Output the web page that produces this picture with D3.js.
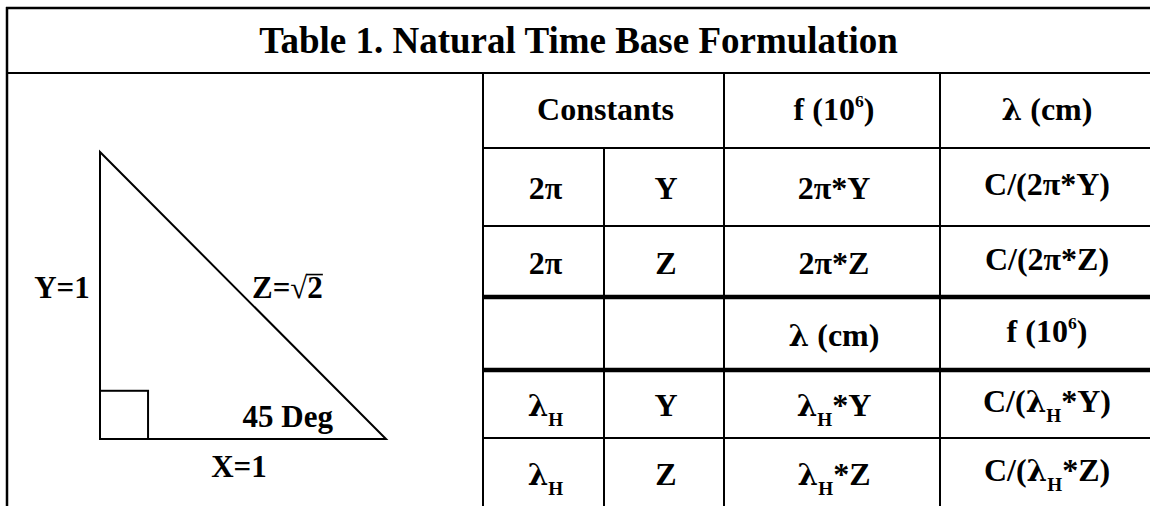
<!DOCTYPE html>
<html>
<head>
<meta charset="utf-8">
<script src="https://cdn.jsdelivr.net/npm/d3@7"></script>
<style>
    body { margin: 0; background: #fff; }
    text { font-family: "Liberation Serif", "Times New Roman", serif; font-weight: bold; fill: #000; }
    .greek { font-family: "DejaVu Serif", serif; }
</style>
</head>
<body>
<script>
// table content ("_H" = subscript H, "^6" = superscript 6)
const title = "Table 1. Natural Time Base Formulation";
const headers = ["Constants", "f (10^6)", "λ (cm)"];
const constA = ["2π", "2π", "", "λ_H", "λ_H"];
const constB = ["Y", "Z", "", "Y", "Z"];
const colF = ["2π*Y", "2π*Z", "λ (cm)", "λ_H*Y", "λ_H*Z"];
const colL = ["C/(2π*Y)", "C/(2π*Z)", "f (10^6)", "C/(λ_H*Y)", "C/(λ_H*Z)"];
const thickRows = [3, 4];

// triangle
const legX = 1, legY = 1;
const sideLabels = ["Y=1", "Z=√2", "X=1"];
const angleLabel = "45 Deg";

let width = 1150, height = 506;

let svg = d3.select("body").append("svg")
    .attr("width", width)
    .attr("height", height);

// layout scales for the table grid
let colX = d3.scaleLinear().domain([0, 1, 2, 3, 4]).range([483, 604, 724, 940, 1156]);
let rowY = d3.scaleLinear().domain([0, 1, 2, 3, 4, 5, 6]).range([73, 148, 226, 297, 370, 438, 508]);

// outer frame
svg.append("line").attr("x1", 7).attr("x2", 7).attr("y1", 7).attr("y2", height)
    .attr("stroke", "#000").attr("stroke-width", 2.5);
svg.append("line").attr("x1", 6).attr("x2", width).attr("y1", 8).attr("y2", 8)
    .attr("stroke", "#000").attr("stroke-width", 2.5);
svg.append("line").attr("x1", 6).attr("x2", width).attr("y1", rowY(0)).attr("y2", rowY(0))
    .attr("stroke", "#000").attr("stroke-width", 2.2);

// horizontal rules
svg.selectAll(".hrule")
    .data(d3.range(1, 6))
    .join("line")
    .attr("class", "hrule")
    .attr("x1", colX(0) - 1).attr("x2", width)
    .attr("y1", d => rowY(d)).attr("y2", d => rowY(d))
    .attr("stroke", "#000")
    .attr("stroke-width", d => thickRows.includes(d) ? 4.5 : 2);

// vertical rules
svg.selectAll(".vrule")
    .data([0, 1, 2, 3])
    .join("line")
    .attr("class", "vrule")
    .attr("x1", d => colX(d)).attr("x2", d => colX(d))
    .attr("y1", d => d === 1 ? rowY(1) : rowY(0)).attr("y2", height)
    .attr("stroke", "#000")
    .attr("stroke-width", 2);

// rich text helper: _X subscript, ^X superscript, lambda in a heavier face
function rich(sel, str, size) {
    let parts = str.split(/([_^].|λ)/).filter(p => p !== "");
    let shift = 0;
    parts.forEach(p => {
        let t = sel.append("tspan");
        if (p[0] === "_" || p[0] === "^") {
            let s = p[0] === "_" ? 0.3 * size : -0.38 * size;
            t.attr("dy", s - shift).attr("font-size", size * (p[0] === "_" ? 0.6 : 0.55)).text(p[1]);
            shift = s;
        } else {
            if (shift !== 0) t.attr("dy", -shift);
            shift = 0;
            if (p === "λ") t.attr("class", "greek").attr("font-size", size * 0.92);
            t.text(p);
        }
    });
}

let fs = 32;

svg.append("text")
    .attr("x", (7 + width) / 2)
    .attr("y", 53)
    .attr("text-anchor", "middle")
    .attr("font-size", 37)
    .text(title);

// header row
let headerCells = [
    { c0: 0, c1: 2, txt: headers[0] },
    { c0: 2, c1: 3, txt: headers[1] },
    { c0: 3, c1: 4, txt: headers[2] }
];
headerCells.forEach(h => {
    let t = svg.append("text")
        .attr("x", (colX(h.c0) + Math.min(colX(h.c1), 1150)) / 2 + 2)
        .attr("y", (rowY(0) + rowY(1)) / 2 + 9)
        .attr("text-anchor", "middle")
        .attr("font-size", fs);
    rich(t, h.txt, fs);
});

// body rows
let cols = [constA, constB, colF, colL];
cols.forEach((col, ci) => {
    col.forEach((txt, ri) => {
        if (!txt) return;
        let r = ri + 1;
        let t = svg.append("text")
            .attr("x", (colX(ci) + Math.min(colX(ci + 1), 1150)) / 2 + 2)
            .attr("y", (rowY(r) + rowY(r + 1)) / 2 + (ci === 3 ? 8 : 12))
            .attr("text-anchor", "middle")
            .attr("font-size", fs);
        rich(t, txt, fs);
    });
});

// triangle
let tx = d3.scaleLinear().domain([0, 1]).range([100, 386]);
let ty = d3.scaleLinear().domain([0, 1]).range([439, 152]);

let tri = d3.line()([[tx(0), ty(legY)], [tx(0), ty(0)], [tx(legX), ty(0)]]);
svg.append("path")
    .attr("d", tri + "Z")
    .attr("fill", "none")
    .attr("stroke", "#000")
    .attr("stroke-width", 2);

let sq = 0.168;
svg.append("rect")
    .attr("x", tx(0)).attr("y", ty(sq))
    .attr("width", tx(sq) - tx(0)).attr("height", ty(0) - ty(sq))
    .attr("fill", "none").attr("stroke", "#000").attr("stroke-width", 2);

let lfs = 31;
svg.append("text")
    .attr("x", tx(0) - 38).attr("y", ty(legY / 2) + 2)
    .attr("text-anchor", "middle").attr("font-size", lfs)
    .text(sideLabels[0]);

let zl = svg.append("text")
    .attr("x", tx(legX / 2) + 9).attr("y", ty(legY / 2) + 2)
    .attr("font-size", lfs)
    .text(sideLabels[1]);

// vinculum over the 2 of the root sign
let zNode = zl.node();
let n = sideLabels[1].length;
let rootEnd = zNode.getEndPositionOfChar(n - 2).x;
let twoEnd = zNode.getEndPositionOfChar(n - 1).x;
let barY = ty(legY / 2) + 2 - lfs * 0.74;
svg.append("line")
    .attr("x1", rootEnd - 1).attr("x2", twoEnd)
    .attr("y1", barY).attr("y2", barY)
    .attr("stroke", "#000").attr("stroke-width", 1.6);

svg.append("text")
    .attr("x", tx(legX / 2) - 4).attr("y", ty(0) + 38)
    .attr("text-anchor", "middle").attr("font-size", lfs)
    .text(sideLabels[2]);

svg.append("text")
    .attr("x", tx(legX) - 53).attr("y", ty(0) - 12)
    .attr("text-anchor", "end").attr("font-size", lfs)
    .text(angleLabel);
</script>
</body>
</html>
